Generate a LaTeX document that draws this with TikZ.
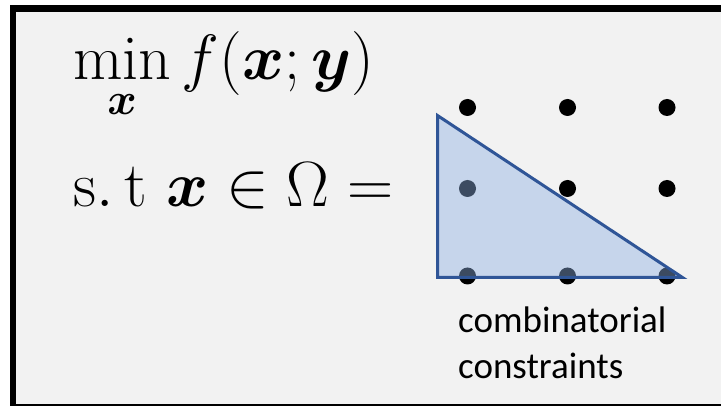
\RequirePackage{fix-cm}
\documentclass[tikz,border=0pt]{standalone}
\usepackage{amsmath,bm}
\usepackage{fontspec}
\newfontfamily\labelfont{Carlito}
\definecolor{panelgray}{HTML}{F2F2F2}
\definecolor{edgeblue}{HTML}{2F5597}
\definecolor{regionblue}{RGB}{140,175,226}
\begin{document}
\begin{tikzpicture}[
    x=1pt, y=-1pt,
    formula/.style={inner sep=0pt, anchor=base west, font=\fontsize{64}{76}\selectfont},
    gridpt/.style={circle, fill=black, inner sep=0pt, minimum size=17pt},
    region/.style={draw=edgeblue, line width=3pt, fill=regionblue, fill opacity=0.43},
    caption/.style={inner sep=0pt, anchor=base west, align=left, font=\labelfont\fontsize{37}{46}\selectfont}
  ]
  \clip (0,0) rectangle (721,406);
  \draw[line width=6.5pt, fill=panelgray] (13,8.5) rectangle (740,407.5);
  % problem statement
  \node[formula] (obj) at (73,80)
    {$\displaystyle\min\limits_{\rule{0pt}{30pt}\bm{x}} f(\bm{x};\bm{y})$};
  \node[formula] (cons) at (73,207) {$\mathrm{s.\,t}\ \bm{x}\in\Omega=$};
  % integer points
  \foreach \i/\x in {1/467.5,2/567.5,3/667} {
    \foreach \j/\y in {1/107.5,2/188.5,3/276} {
      \node[gridpt] (p\i\j) at (\x,\y) {};
    }
  }
  % feasible region
  \coordinate (apex) at (437.5,115.5);
  \coordinate (corner) at (437.5,277.5);
  \coordinate (tip) at (682.5,277.5);
  \draw[region] (apex) -- (corner) -- (tip) -- cycle;
  \node[caption] (lbl) at (458,378) {combinatorial\\constraints};
\end{tikzpicture}
\end{document}
